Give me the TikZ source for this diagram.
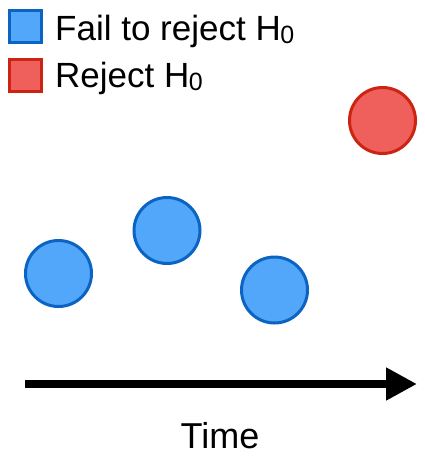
\documentclass[tikz,border=0pt]{standalone}
\usepackage{fontspec}
\setmainfont{Liberation Sans}
\usetikzlibrary{arrows.meta}
\definecolor{bfill}{HTML}{52A7FA}
\definecolor{bdraw}{HTML}{0B64C1}
\definecolor{rfill}{HTML}{EF5F5B}
\definecolor{rdraw}{HTML}{CC2412}
\tikzset{
  bluept/.style={circle,draw=bdraw,fill=bfill,line width=3pt,inner sep=0pt,minimum size=66pt},
  redpt/.style={circle,draw=rdraw,fill=rfill,line width=3pt,inner sep=0pt,minimum size=66pt},
  bluesq/.style={rectangle,draw=bdraw,fill=bfill,line width=3.2pt,inner sep=0pt,minimum size=32pt},
  redsq/.style={rectangle,draw=rdraw,fill=rfill,line width=3.2pt,inner sep=0pt,minimum size=32pt},
  legtext/.style={anchor=base west,inner sep=0pt,font=\fontsize{35}{40}\selectfont},
  timearrow/.style={line width=8pt,-{Triangle[length=31pt,width=31pt]}},
}
\newcommand{\hsub}{H\kern-0.5pt\raisebox{-0.1em}{\fontsize{25}{28}\selectfont 0}}
\begin{document}
\begin{tikzpicture}[x=1pt,y=-1pt]
\useasboundingbox (0,0) rectangle (425,463);
\node[bluesq] (lb) at (25.5,26.5) {};
\node[redsq] (lr) at (25.5,75.5) {};
\node[legtext] (tb) at (55,40) {Fail to reject \hsub};
\node[legtext] (tr) at (55,87) {Reject \hsub};
\node[bluept] (c1) at (58.5,273.5) {};
\node[bluept] (c2) at (167,230.5) {};
\node[bluept] (c3) at (274.5,290) {};
\node[redpt] (c4) at (382.5,120.5) {};
\coordinate (a0) at (25,384);
\coordinate (a1) at (417,384);
\draw[timearrow] (a0) -- (a1);
\node[anchor=base,inner sep=0pt,font=\fontsize{36}{40}\selectfont] (time) at (220,448) {Time};
\end{tikzpicture}
\end{document}
